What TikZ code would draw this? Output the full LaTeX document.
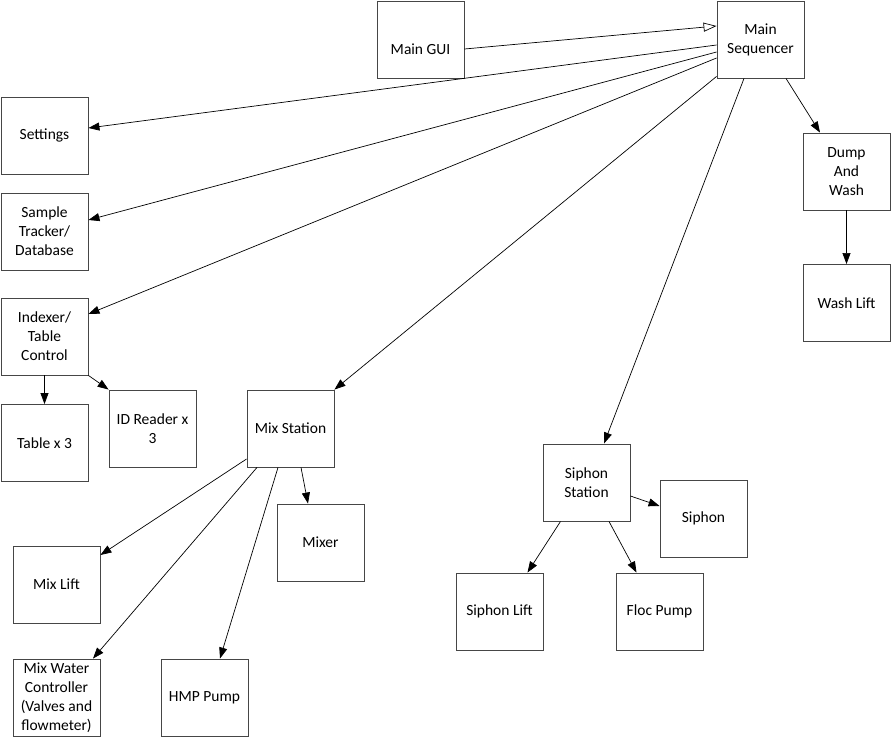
\documentclass[tikz,border=0pt]{standalone}
\usepackage{fontspec}
\setmainfont{Carlito}
\usepackage{tikz}
\usetikzlibrary{arrows.meta, positioning, calc}
\definecolor{boxline}{RGB}{70,70,70}
\tikzset{
    % box text, same for every block
    blocktext/.style={align=center, font=\fontsize{15.5}{19}\selectfont},
    % plain module box, every block is the same size
    blockbox/.style={blocktext, draw=boxline, line width=0.9pt, minimum width=87pt,
        minimum height=77pt, inner sep=2pt},
    % call edges
    edge/.style={-{Triangle[length=11pt, width=8pt]}, line width=0.7pt},
    % user input edge, hollow tip
    openedge/.style={-{Triangle[open, length=13pt, width=9pt]}, line width=0.7pt},
}

\begin{document}
\begin{tikzpicture}[x=1pt, y=-1pt]
    \useasboundingbox (0,0) rectangle (892,738);

    % ---- top level ----
    \node[blockbox, label={[blocktext, yshift=-9.5pt]center:Main GUI}] (gui) at (420.5, 39.5) {};
    \node[blockbox] (seq) at (760.5, 39.5) {Main\\Sequencer};

    % ---- left column ----
    \node[blockbox] (settings) at (44.5, 135.5) {Settings};
    \node[blockbox] (tracker)  at (44.5, 231.5) {Sample\\Tracker/\\Database};
    \node[blockbox] (indexer)  at (44.5, 336.5) {Indexer/\\Table\\Control};
    \node[blockbox] (table)    at (44.5, 443)   {Table x 3};
    \node[blockbox] (idreader) at (152.5, 428.5) {ID Reader x\\3};

    % ---- mix station ----
    \node[blockbox] (mixst)    at (290.5, 428.5) {Mix Station};
    \node[blockbox] (mixer)    at (320.5, 542.5) {Mixer};
    \node[blockbox] (mixlift)  at (56.5, 584.5)  {Mix Lift};
    \node[blockbox] (mixwater) at (56.5, 697.5)  {Mix Water\\Controller\\(Valves and\\flowmeter)};
    \node[blockbox] (hmp)      at (204.5, 697.5) {HMP Pump};

    % ---- siphon station ----
    \node[blockbox] (siphst)   at (586.5, 482.5) {Siphon\\Station};
    \node[blockbox] (siphon)   at (703.5, 518.5) {Siphon};
    \node[blockbox] (siphlift) at (499.5, 611.5) {Siphon Lift};
    \node[blockbox] (floc)     at (659.5, 611.5) {Floc Pump};

    % ---- dump and wash ----
    \node[blockbox] (dump)     at (846.5, 171.5) {Dump\\And\\Wash};
    \node[blockbox] (washlift) at (846.5, 303)   {Wash Lift};

    % gui -> sequencer
    \draw[openedge] ([yshift=-9.5pt]gui.east) -- ([yshift=13.5pt]seq.west);

    % sequencer fan-out
    \draw[edge] ([yshift=-5.5pt]seq.west)  -- ([yshift=7.5pt]settings.east);
    \draw[edge] ([yshift=-12.5pt]seq.west) -- ([yshift=11.5pt]tracker.east);
    \draw[edge] ([yshift=-18.5pt]seq.west) -- ([yshift=22.5pt]indexer.east);
    \draw[edge] ([yshift=2pt]seq.south west) -- (mixst.north east);
    \draw[edge] ([xshift=-16.5pt]seq.south) -- ([xshift=17.5pt]siphst.north);
    \draw[edge] ([xshift=25.5pt]seq.south)  -- ([xshift=-26.5pt]dump.north);
    \draw[edge] (dump) -- (washlift);

    % indexer
    \draw[edge] (indexer) -- (table);
    \draw[edge] (indexer.south east) -- (idreader.north west);

    % mix station
    \draw[edge] ([yshift=-30.5pt]mixst.west) -- ([yshift=29.5pt]mixlift.east);
    \draw[edge] ([xshift=-33.5pt]mixst.south) -- ([xshift=36.5pt]mixwater.north);
    \draw[edge] ([xshift=-12.5pt]mixst.south) -- ([xshift=15.5pt]hmp.north);
    \draw[edge] ([xshift=10.5pt]mixst.south) -- ([xshift=-12.5pt]mixer.north);

    % siphon station
    \draw[edge] ([yshift=-13.5pt]siphst.east) -- ([yshift=12.5pt]siphon.west);
    \draw[edge] ([xshift=-26pt]siphst.south) -- ([xshift=28pt]siphlift.north);
    \draw[edge] ([xshift=22.5pt]siphst.south) -- ([xshift=-23pt]floc.north);

\end{tikzpicture}
\end{document}
